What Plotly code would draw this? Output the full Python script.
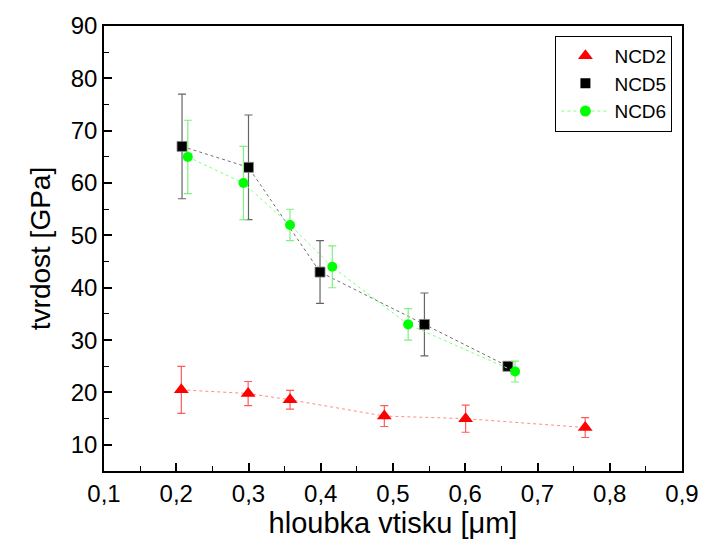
import plotly.graph_objects as go

# NCD2 (red triangles)
x_ncd2 = [0.207, 0.2995, 0.3575, 0.488, 0.6005, 0.766]
y_ncd2 = [20.5, 19.8, 18.6, 15.5, 15.0, 13.3]
e_ncd2 = [4.5, 2.3, 1.8, 2.0, 2.6, 1.9]

# NCD5 (black squares)
x_ncd5 = [0.208, 0.300, 0.399, 0.5435, 0.659]
y_ncd5 = [67, 63, 43, 33, 25]
e_ncd5 = [10, 10, 6, 6, 0.8]

# NCD6 (green circles)
x_ncd6 = [0.216, 0.293, 0.3575, 0.416, 0.521, 0.669]
y_ncd6 = [65, 60, 52, 44, 33, 24]
e_ncd6 = [7, 7, 3, 4, 3, 2]

names = ["NCD2", "NCD5", "NCD6"]
x_ticks = [0.1, 0.2, 0.3, 0.4, 0.5, 0.6, 0.7, 0.8, 0.9]
y_ticks = [10, 20, 30, 40, 50, 60, 70, 80, 90]

FONT = "Liberation Sans, Arial, sans-serif"

fig = go.Figure()

fig.add_trace(go.Scatter(
    x=x_ncd2, y=y_ncd2, mode="lines+markers", showlegend=False,
    line=dict(color="rgba(255,110,110,0.8)", width=1, dash="dot"),
    marker=dict(symbol="triangle-up", size=13, color="#ff0000"),
    error_y=dict(type="data", array=e_ncd2, color="#ff5a5a", thickness=1.2, width=4),
))
fig.add_trace(go.Scatter(
    x=x_ncd5, y=y_ncd5, mode="lines+markers", showlegend=False,
    line=dict(color="#707070", width=1, dash="dot"),
    marker=dict(symbol="square", size=10, color="#000000",
                line=dict(color="#888888", width=0.8)),
    error_y=dict(type="data", array=e_ncd5, color="#666666", thickness=1.2, width=4),
))
fig.add_trace(go.Scatter(
    x=x_ncd6, y=y_ncd6, mode="lines+markers", showlegend=False,
    line=dict(color="#80ff80", width=1, dash="dot"),
    marker=dict(symbol="circle", size=10, color="#00ff00"),
    error_y=dict(type="data", array=e_ncd6, color="#80f080", thickness=1.2, width=4),
))

# legend entries
fig.add_trace(go.Scatter(x=[None], y=[None], mode="markers", name=names[0],
                         marker=dict(symbol="triangle-up", size=13, color="#ff0000")))
fig.add_trace(go.Scatter(x=[None], y=[None], mode="markers", name=names[1],
                         marker=dict(symbol="square", size=10, color="#000000")))
fig.add_trace(go.Scatter(x=[None], y=[None], mode="lines+markers", name=names[2],
                         line=dict(color="#80ff80", width=1, dash="dot"),
                         marker=dict(symbol="circle", size=11, color="#00ff00")))

axis_common = dict(
    showline=True, linecolor="black", linewidth=1.5, mirror=True,
    ticks="inside", ticklen=8, tickwidth=1.5, tickcolor="black",
    showgrid=False, zeroline=False,
    tickfont=dict(family=FONT, size=24, color="black"),
)

fig.update_xaxes(
    range=[0.1, 0.9], tickvals=x_ticks,
    minor=dict(dtick=0.05, ticks="inside", ticklen=5, tickcolor="black", tickwidth=1.2),
    title=dict(text="hloubka vtisku [μm]", font=dict(family=FONT, size=29, color="black"), standoff=7),
    **axis_common,
)
fig.update_yaxes(
    range=[5, 90], tickvals=y_ticks,
    minor=dict(dtick=5, tick0=0, ticks="inside", ticklen=5, tickcolor="black", tickwidth=1.2),
    title=dict(text="tvrdost [GPa]", font=dict(family=FONT, size=28, color="black"), standoff=12),
    **axis_common,
)

fig.update_layout(
    width=711, height=553,
    margin=dict(l=104, r=22, t=20, b=82),
    paper_bgcolor="white", plot_bgcolor="white",
    separators=", ",
    legend=dict(
        x=0.781, y=0.978, xanchor="left", yanchor="top",
        bordercolor="black", borderwidth=1, bgcolor="white",
        font=dict(family=FONT, size=19, color="black"),
        tracegroupgap=0, itemwidth=48,
    ),
)

fig.write_html("out.html")
